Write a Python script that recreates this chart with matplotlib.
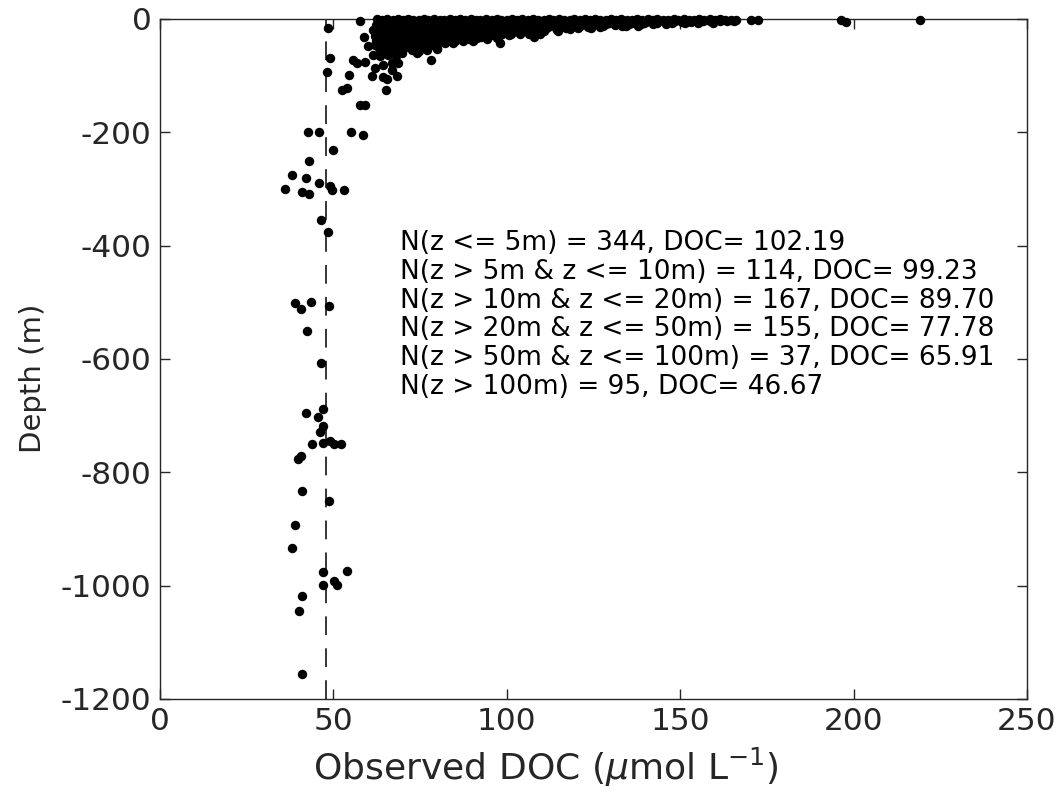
import matplotlib
matplotlib.use("Agg")
import matplotlib.pyplot as plt

plt.rcParams['font.family'] = ['DejaVu Sans']
plt.rcParams['lines.scale_dashes'] = False
plt.rcParams['axes.unicode_minus'] = False

# ---------------- data (DOC in umol/L, depth in m) ----------------
# z <= 5 m
doc_0_5 = [57.8, 62.5, 64.1, 65.4, 67.2, 68.6, 70.1, 71.4, 73.0, 74.6, 76.1, 77.4, 79.1, 80.6, 82.0,
           83.6, 85.1, 86.4, 88.0, 89.6, 91.1, 92.4, 94.0, 95.6, 97.1, 98.4, 100.1, 101.6, 103.0,
           104.4, 106.1, 107.6, 109.0, 110.6, 112.1, 113.4, 115.0, 116.6, 118.1, 119.4, 121.0,
           122.6, 124.1, 125.4, 127.0, 128.6, 130.1, 131.4, 133.0, 134.6, 136.1, 137.4, 139.0,
           140.6, 142.1, 143.4, 145.0, 146.6, 148.1, 149.4, 151.0, 152.6, 154.1, 155.4, 157.0,
           158.6, 160.1, 161.4, 163.0, 164.6, 166.2, 170.3, 172.5, 196.3, 219.1,
           63.4, 65.0, 67.1, 68.5, 71.0, 72.6, 75.0, 76.5, 79.0, 80.4, 83.5, 85.0, 87.4, 89.0,
           91.0, 93.5, 95.0, 97.5, 100.0, 101.5, 104.5, 106.0, 108.5, 111.5, 114.0, 115.5, 118.5,
           121.0, 122.5, 125.5, 128.5, 131.5, 134.5, 137.0, 138.5, 140.5, 143.5, 145.5, 148.5,
           151.5, 153.5, 156.5, 158.5, 161.5, 163.5,
           62.8, 64.6, 66.5, 69.0, 71.5, 73.5, 75.5, 78.0, 79.5, 82.0, 83.5, 86.0, 88.0, 90.5,
           92.5, 94.5, 96.5, 99.0, 100.5, 103.0, 105.0, 107.5, 110.0, 112.5, 114.5, 117.0, 119.5,
           122.5, 124.5, 127.5, 130.5, 133.5, 135.5, 140.0, 142.5, 146.5, 150.5, 153.0, 155.5, 165.5]
depth_0_5 = [-3.5, -0.5, -2.0, -0.5, -1.5, -0.5, -2.0, -0.5, -1.0, -2.0, -0.5, -1.5, -0.5, -2.0, -1.0,
             -0.5, -1.5, -0.5, -2.0, -0.5, -1.0, -2.0, -0.5, -1.5, -0.5, -2.0, -1.0, -0.5, -1.5,
             -0.5, -2.0, -0.5, -1.0, -2.0, -0.5, -1.5, -0.5, -2.0, -1.0, -0.5, -1.5,
             -0.5, -2.0, -0.5, -1.0, -2.0, -0.5, -1.5, -0.5, -2.0, -1.0, -0.5, -1.5,
             -0.5, -2.0, -0.5, -1.0, -2.0, -0.5, -1.5, -0.5, -2.0, -1.0, -0.5, -1.5,
             -0.5, -2.0, -0.5, -1.0, -2.0, -1.5, -2.5, -2.5, -1.5, -2.5,
             -3.0, -3.5, -3.0, -4.0, -3.0, -3.5, -3.0, -4.0, -3.0, -3.5, -3.0, -4.0, -3.0, -3.5,
             -3.0, -4.0, -3.0, -3.5, -3.0, -4.0, -3.0, -3.5, -3.0, -4.0, -3.0, -3.5, -3.0,
             -4.0, -3.0, -3.5, -3.0, -4.0, -3.0, -3.5, -3.0, -4.0, -3.0, -3.5, -3.0,
             -4.0, -3.0, -3.5, -3.0, -4.0, -3.0,
             -5.0, -4.5, -5.0, -4.5, -5.0, -4.5, -5.0, -4.5, -5.0, -4.5, -5.0, -4.5, -5.0, -4.5,
             -5.0, -4.5, -5.0, -4.5, -5.0, -4.5, -5.0, -4.5, -5.0, -4.5, -5.0, -4.5, -5.0,
             -4.5, -5.0, -4.5, -5.0, -4.5, -5.0, -4.5, -5.0, -4.5, -5.0, -4.5, -5.0, -4.0]

# 5 m < z <= 10 m
doc_5_10 = [62.8, 64.6, 66.9, 69.1, 71.4, 73.2, 75.8, 77.6, 80.1, 82.3, 84.7, 86.4, 88.9, 91.2,
            93.5, 95.8, 98.1, 100.6, 102.9, 105.1, 107.8, 110.2, 112.6, 115.3, 117.9, 120.4,
            123.1, 126.2, 129.5, 132.8, 136.1, 139.7, 143.2, 147.6, 151.3, 155.2, 159.4, 197.9,
            63.4, 65.7, 67.8, 70.3, 72.6, 74.9, 76.8, 79.2, 81.5, 83.9, 86.1, 88.2, 90.6, 92.8,
            95.1, 97.4, 99.7, 101.8, 104.3, 106.7, 109.1, 111.5, 114.2, 116.6, 119.3, 122.1,
            125.4, 128.7, 131.9, 135.2, 138.6, 142.1, 145.8]
depth_5_10 = [-6.5, -7.0, -6.5, -7.0, -6.5, -7.0, -6.5, -7.0, -6.5, -7.0, -6.5, -7.0, -6.5, -7.0,
              -6.5, -7.0, -6.5, -7.0, -6.5, -7.0, -6.5, -7.0, -6.5, -7.0, -6.5, -7.0,
              -6.5, -7.0, -6.5, -7.0, -6.5, -7.0, -6.5, -7.0, -6.5, -7.0, -6.5, -6.0,
              -9.0, -8.5, -9.0, -8.5, -9.0, -8.5, -9.0, -8.5, -9.0, -8.5, -9.0, -8.5, -9.0, -8.5,
              -9.0, -8.5, -9.0, -8.5, -9.0, -8.5, -9.0, -8.5, -9.0, -8.5, -9.0, -8.5,
              -9.0, -8.5, -9.0, -8.5, -9.5, -9.0, -9.5]

# 10 m < z <= 20 m
doc_10_20 = [48.5, 62.2, 64.3, 66.1, 68.4, 70.8, 72.9, 75.1, 77.3, 79.6, 81.9, 84.2, 86.6, 88.7,
             91.1, 93.4, 95.6, 98.2, 100.3, 102.6, 105.2, 107.4, 110.1, 112.8, 115.7, 118.4,
             121.2, 124.3, 127.6, 131.2, 134.4, 137.8,
             63.1, 65.2, 67.4, 69.6, 71.9, 74.3, 76.4, 78.8, 80.9, 83.2, 85.6, 87.8, 90.2, 92.4,
             94.7, 97.1, 99.3, 101.7, 104.1, 106.5, 109.2, 111.9, 114.6, 117.3, 120.1, 123.4,
             126.8, 133.1,
             62.6, 64.8, 66.7, 68.9, 71.2, 73.6, 75.7, 78.1, 80.4, 82.6, 84.9, 87.3, 89.6, 91.8,
             94.1, 96.5, 98.8, 101.2, 103.6, 106.1, 108.7, 111.3, 114.1, 117.2, 120.6, 124.2,
             61.5, 63.7, 65.9, 68.1, 70.2, 72.4, 74.7, 77.1, 79.3, 81.6, 83.8, 86.2, 88.4, 90.7,
             93.2, 95.4, 97.9, 100.1, 102.4, 105.3, 108.1, 111.0, 114.4, 118.2]
depth_10_20 = [-16.0, -11.0, -11.5, -11.0, -11.5, -11.0, -11.5, -11.0, -11.5, -11.0, -11.5, -11.0,
               -11.5, -11.0, -11.5, -11.0, -11.5, -11.0, -11.5, -11.0, -11.5, -11.0, -11.5,
               -11.0, -11.5, -11.0, -11.5, -11.0, -11.5, -11.0, -11.5, -12.0,
               -13.5, -14.0, -13.5, -14.0, -13.5, -14.0, -13.5, -14.0, -13.5, -14.0, -13.5,
               -14.0, -13.5, -14.0, -13.5, -14.0, -13.5, -14.0, -13.5, -14.0, -13.5, -14.0,
               -13.5, -14.0, -13.5, -14.0, -13.5, -13.0,
               -16.0, -16.5, -16.0, -16.5, -16.0, -16.5, -16.0, -16.5, -16.0, -16.5, -16.0,
               -16.5, -16.0, -16.5, -16.0, -16.5, -16.0, -16.5, -16.0, -16.5, -16.0, -16.5,
               -16.0, -16.5, -16.0, -16.5,
               -19.0, -18.5, -19.0, -18.5, -19.0, -18.5, -19.0, -18.5, -19.0, -18.5, -19.0,
               -18.5, -19.0, -18.5, -19.0, -18.5, -19.0, -18.5, -19.0, -18.5, -19.0, -18.5,
               -19.0, -18.5]

# 20 m < z <= 50 m
doc_20_50 = [62.4, 64.5, 66.6, 69.3, 71.6, 73.8, 76.2, 78.5, 80.8, 83.1, 85.4, 87.7, 90.0, 92.3,
             94.6, 97.0, 99.4, 101.9, 104.6, 107.5, 110.8, 114.9,
             63.2, 65.4, 67.9, 70.1, 72.5, 74.8, 77.2, 79.6, 81.9, 84.3, 86.5, 88.9, 91.3, 93.6,
             96.1, 98.5, 101.1, 103.8, 106.4, 109.6,
             62.1, 64.2, 66.3, 68.6, 71.0, 73.4, 75.9, 78.2, 80.6, 83.0, 85.2, 87.6, 90.1, 92.5,
             95.0, 97.5, 100.5, 107.7,
             58.9, 63.0, 65.1, 67.2, 69.7, 72.1, 74.5, 76.9, 79.4, 81.8, 84.1, 86.6, 89.1, 91.5,
             94.2, 97.3,
             62.3, 64.0, 66.0, 68.3, 70.7, 73.1, 75.6, 78.0, 80.5, 82.7, 85.1, 87.4, 90.3,
             63.3, 65.6, 67.7, 69.9, 72.3, 74.6, 77.0, 79.8, 82.2, 84.6, 98.1,
             60.1, 62.0, 64.4, 66.4, 68.8, 71.3, 73.7, 76.3, 78.8, 64.4]
depth_20_50 = [-22.0, -23.0, -22.0, -23.0, -22.0, -23.0, -22.0, -23.0, -22.0, -23.0, -22.0, -23.0,
               -22.0, -23.0, -22.0, -23.0, -22.0, -23.0, -22.0, -23.0, -22.0, -22.0,
               -26.0, -27.0, -26.0, -27.0, -26.0, -27.0, -26.0, -27.0, -26.0, -27.0, -26.0,
               -27.0, -26.0, -27.0, -26.0, -27.0, -26.0, -27.0, -26.0, -26.0,
               -30.0, -31.0, -30.0, -31.0, -30.0, -31.0, -30.0, -31.0, -30.0, -31.0, -30.0,
               -31.0, -30.0, -31.0, -30.0, -31.0, -28.0, -32.0,
               -32.0, -34.0, -35.0, -34.0, -35.0, -34.0, -35.0, -34.0, -35.0, -34.0, -35.0,
               -34.0, -35.0, -34.0, -35.0, -34.0,
               -38.0, -39.0, -38.0, -39.0, -38.0, -39.0, -38.0, -39.0, -38.0, -39.0, -38.0,
               -39.0, -38.0,
               -42.0, -43.0, -42.0, -43.0, -42.0, -43.0, -42.0, -43.0, -42.0, -43.0, -42.0,
               -48.0, -46.0, -47.0, -46.0, -47.0, -46.0, -47.0, -46.0, -45.0, -47.0]

# 50 m < z <= 100 m
doc_50_100 = [79.8, 80.0, 63.1, 65.5, 67.8, 70.3, 72.7, 74.7, 77.1, 63.6, 66.5, 69.7, 74.0,
              61.5, 63.4, 65.7, 68.0, 55.7, 56.7, 59.1, 66.8, 68.7, 78.2, 64.4, 62.0, 66.8,
              54.5, 61.0, 68.4, 49.0, 48.2]
depth_50_100 = [-51.0, -53.0, -52.0, -53.0, -55.0, -52.0, -54.0, -57.0, -54.0, -58.0, -60.0,
                -60.0, -60.0, -63.0, -66.0, -64.0, -66.0, -72.0, -77.0, -76.0, -77.0, -77.0,
                -72.0, -82.0, -86.0, -90.0, -99.0, -100.0, -101.0, -69.0, -93.0]

# z > 100 m
doc_deep = [65.5, 64.4, 53.8, 52.4, 65.1, 57.7, 59.1, 42.6, 45.8, 55.1, 58.5, 50.0, 43.0, 38.0,
            42.1, 45.9, 49.0, 49.5, 36.0, 40.9, 43.0, 53.0, 46.5, 48.3, 38.9, 40.6, 43.5, 48.7,
            42.3, 46.3, 42.1, 47.1, 45.6, 47.1, 46.1, 43.9, 47.1, 49.0, 50.2, 52.1, 40.8, 39.9,
            40.9, 48.7, 39.0, 38.0, 47.1, 54.0, 47.1, 50.2, 50.9, 41.0, 40.0, 40.9]
depth_deep = [-106.0, -102.0, -122.0, -125.0, -126.0, -152.0, -151.0, -200.0, -200.0, -200.0,
              -204.0, -232.0, -251.0, -276.0, -280.0, -290.0, -294.0, -301.0, -300.0, -305.0,
              -308.0, -301.0, -355.0, -375.0, -501.0, -511.0, -500.0, -506.0, -551.0, -607.0,
              -696.0, -689.0, -703.0, -718.0, -728.0, -750.0, -748.0, -745.0, -750.0, -750.0,
              -771.0, -777.0, -833.0, -851.0, -893.0, -933.0, -975.0, -974.0, -999.0, -992.0,
              -999.0, -1019.0, -1045.0, -1155.0]

deep_reference_doc = 48.0

summary_labels = ["N(z <= 5m) = 344, DOC= 102.19",
                  "N(z > 5m & z <= 10m) = 114, DOC= 99.23",
                  "N(z > 10m & z <= 20m) = 167, DOC= 89.70",
                  "N(z > 20m & z <= 50m) = 155, DOC= 77.78",
                  "N(z > 50m & z <= 100m) = 37, DOC= 65.91",
                  "N(z > 100m) = 95, DOC= 46.67"]

x_ticks = [0, 50, 100, 150, 200, 250]
y_ticks = [-1200, -1000, -800, -600, -400, -200, 0]

# ---------------- figure ----------------
fig = plt.figure(figsize=(10.6, 8.0), dpi=100)
ax = fig.add_axes([160 / 1060, 1 - 699 / 800, 867 / 1060, 680 / 800])

groups = [(doc_0_5, depth_0_5), (doc_5_10, depth_5_10), (doc_10_20, depth_10_20),
          (doc_20_50, depth_20_50), (doc_50_100, depth_50_100), (doc_deep, depth_deep)]
for d, z in groups:
    ax.plot(d, z, linestyle='none', marker='o', markersize=6.8, color='black',
            markeredgewidth=0, clip_on=False, zorder=3)

ax.plot([deep_reference_doc, deep_reference_doc], [-1200, 0], color='black',
        linewidth=1.1, dashes=(13.5, 9.5), zorder=2)

ax.set_xlim(0, 250)
ax.set_ylim(-1200, 0)
ax.set_xticks(x_ticks)
ax.set_yticks(y_ticks)

axcol = '#262626'
for s in ax.spines.values():
    s.set_color(axcol)
    s.set_linewidth(1.0)
ax.tick_params(direction='in', length=7, width=1.0, color=axcol, labelcolor=axcol,
               labelsize=22.5, top=True, right=True, pad=6)

ax.set_xlabel('Observed DOC ($\\mu$mol L$^{-1}$)', fontsize=26, color=axcol)
ax.xaxis.set_label_coords((546 - 160) / 867, (699 - 746) / 680)
ax.set_ylabel('Depth (m)', fontsize=21, color=axcol)
ax.yaxis.set_label_coords((47 - 160) / 867, (699 - 378) / 680)

y0 = 243
for i, line in enumerate(summary_labels):
    fig.text(400 / 1060, 1 - (y0 + i * 28.8) / 800, line, fontsize=19, color='black',
             ha='left', va='center')

fig.savefig('out.png', dpi=100)
